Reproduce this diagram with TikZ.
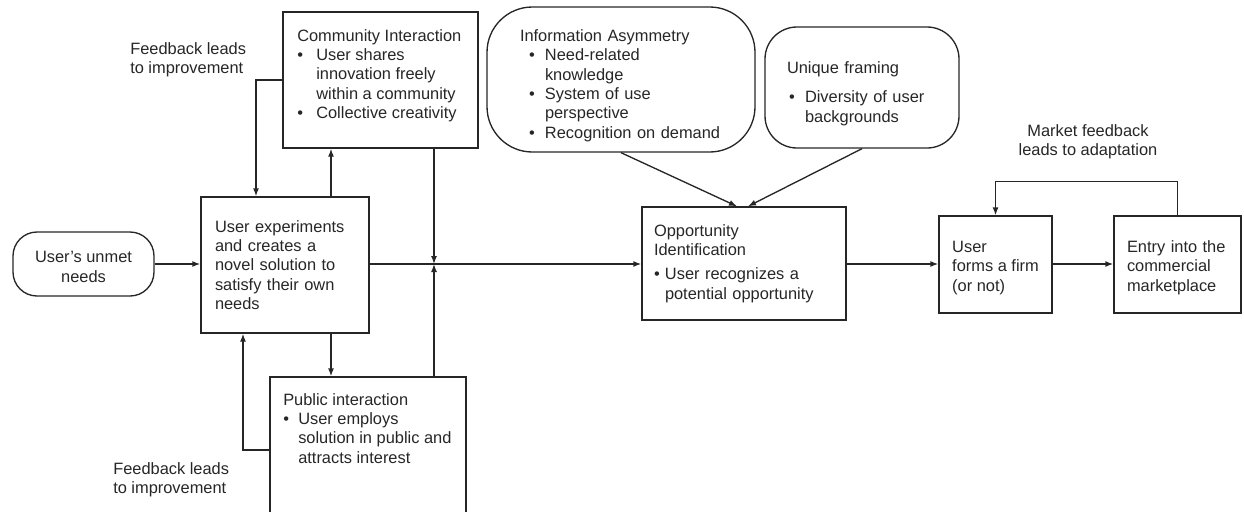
\documentclass[tikz,border=0pt]{standalone}
\usepackage{fontspec}
\setmainfont{Liberation Sans}
\usetikzlibrary{arrows.meta}
\newlength{\upx}\setlength{\upx}{0.75pt}
\newcommand{\bul}[2][0pt]{\hspace*{#1}\makebox[#2][l]{\textbullet}}
\newcommand{\topstrut}[1]{\rule{0pt}{#1}}

\begin{document}
\begin{tikzpicture}[
  x=0.75pt, y=-0.75pt,
  every node/.style={font=\fontsize{12.3pt}{14.5pt}\selectfont, text=black!85},
  box/.style={draw=black!85, line width=1pt, inner sep=0pt, align=left},
  round/.style={box, rounded corners=#1},
  txt/.style={inner sep=0pt, align=left},
  arrow/.style={-{Latex[length=6pt,width=4.5pt]}, line width=1pt, draw=black!85}
]
  \useasboundingbox (0,0) rectangle (1244,511);
  \clip (0,0) rectangle (1244,511);

  \node[round=18pt, align=center, minimum width=141\upx, minimum height=64\upx] (unmet)
    at (83.5,264) {\topstrut{17\upx}User’s unmet\\needs};
  \node[box, text width=140\upx, minimum width=168\upx, minimum height=136\upx] (exp)
    at (285,265) {User experiments\\and creates a\\novel solution to\\satisfy their own\\needs};

  \node[box, minimum width=195\upx, minimum height=136\upx] (comm) at (380.5,80) {};
  \node[txt, anchor=north west] (commtxt) at (297,29)
    {Community Interaction\\ \bul{19\upx}User shares\\ \hspace*{19\upx}innovation freely\\
     \hspace*{19\upx}within a community\\ \bul{19\upx}Collective creativity};

  \node[box, minimum width=196\upx, minimum height=183\upx] (pub) at (368,468.5) {};
  \node[txt, anchor=north west] (pubtxt) at (283,393)
    {Public interaction\\ \bul{15\upx}User employs\\ \hspace*{15\upx}solution in public and\\
     \hspace*{15\upx}attracts interest};

  \node[round=34pt, text width=202\upx, minimum width=268\upx, minimum height=145\upx] (info)
    at (621,79.5)
    {\topstrut{24\upx}Information Asymmetry\\ \bul[9\upx]{16\upx}Need-related\\
     \hspace*{25\upx}knowledge\\ \bul[9\upx]{16\upx}System of use\\
     \hspace*{25\upx}perspective\\ \bul[9\upx]{16\upx}Recognition on demand};
  \node[round=24pt, text width=150\upx, minimum width=194\upx, minimum height=121\upx] (uniq)
    at (862,87.5)
    {\topstrut{24\upx}Unique framing\\[7.5pt] \bul[2\upx]{16\upx}Diversity of user\\
     \hspace*{18\upx}backgrounds};

  \node[box, text width=180\upx, minimum width=204\upx, minimum height=113\upx] (opp)
    at (744,263.5)
    {Opportunity\\Identification\\[3.75pt] \bul{11\upx}User recognizes a\\
     \hspace*{11\upx}potential opportunity};
  \node[box, minimum width=113\upx, minimum height=97\upx] (firm) at (995.5,264.5)
    {\topstrut{18\upx}User\\forms a firm\\(or not)};
  \node[box, text width=101\upx, minimum width=127\upx, minimum height=97\upx] (entry)
    at (1177.5,264.5) {\topstrut{18\upx}Entry into the\\commercial\\marketplace};

  \node[txt, anchor=north west] (fbtop) at (130,42) {Feedback leads\\to improvement};
  \node[txt, anchor=north west] (fbbot) at (113,462) {Feedback leads\\to improvement};
  \node[txt, align=center] (mfb) at (1088,141.5) {Market feedback\\leads to adaptation};

  \coordinate (junc) at (434,264);

  \draw[arrow] (unmet.east) -- (exp.west |- unmet.east);
  \draw[arrow] (exp.east |- junc) -- (opp.west |- junc);
  \draw[arrow] (comm.west) -| ([xshift=-21.75pt]exp.north);
  \draw[arrow] ([xshift=34.5pt]exp.north) -- ([xshift=34.5pt]exp.north |- comm.south);
  \draw[arrow] (comm.south -| junc) -- (junc);
  \draw[arrow] (pub.north -| junc) -- (junc);
  \draw[arrow] ([xshift=34.5pt]exp.south) -- ([xshift=34.5pt]exp.south |- pub.north);
  \draw[arrow] ([yshift=13.9pt]pub.west) -| ([xshift=-31.5pt]exp.south);
  \draw[arrow] (info.south) -- ([xshift=-5.25pt]opp.north);
  \draw[arrow] (uniq.south) -- ([xshift=3pt]opp.north);
  \draw[arrow] (opp.east |- junc) -- (firm.west |- junc);
  \draw[arrow] (firm.east |- junc) -- (entry.west |- junc);
  \draw[arrow] (entry.north) -- ++(0,-34) -| (firm.north);
\end{tikzpicture}
\end{document}
